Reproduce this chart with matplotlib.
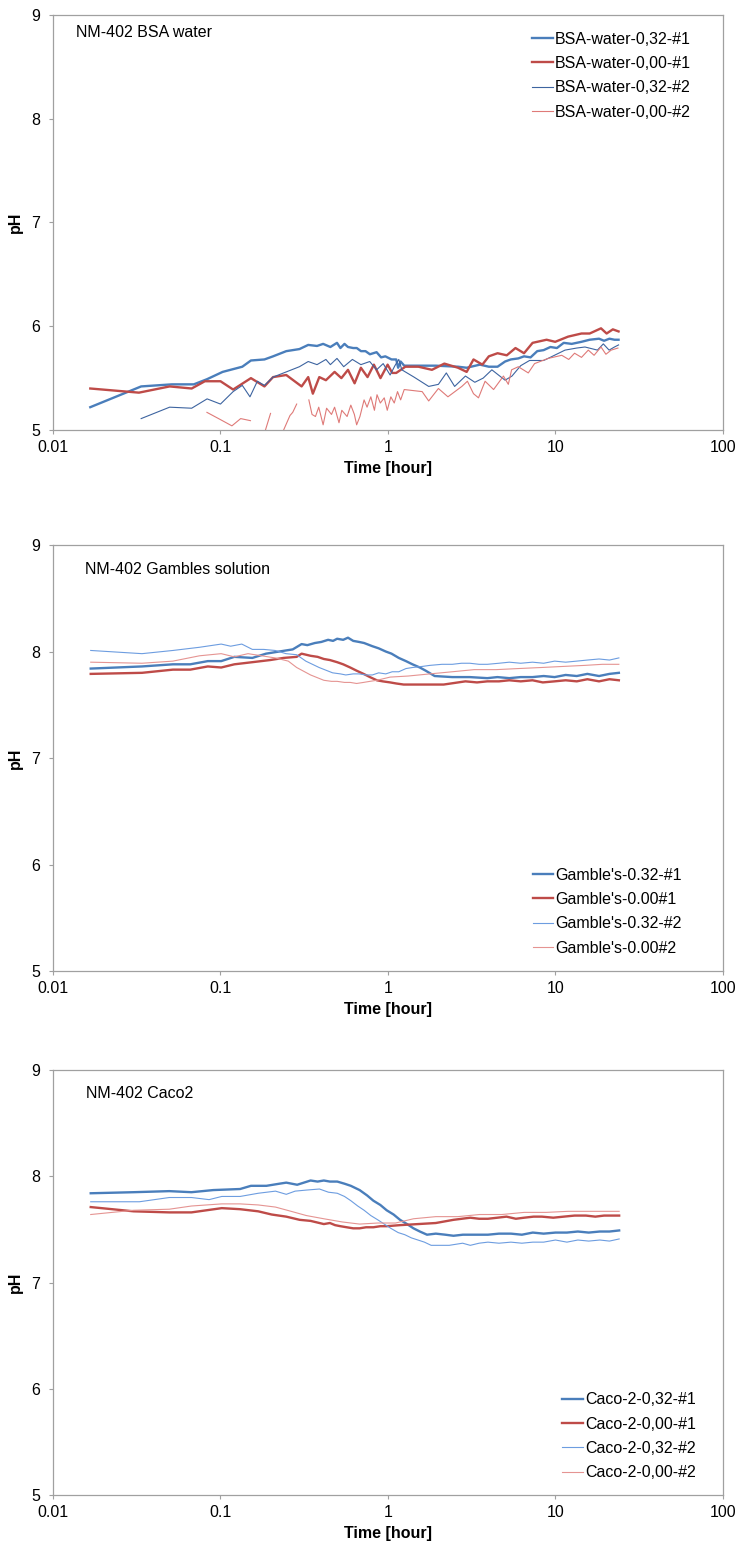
import numpy as np
import matplotlib
matplotlib.use("Agg")
import matplotlib.pyplot as plt

plt.rcParams['font.family'] = ['Liberation Sans', 'DejaVu Sans']

nan = float('nan')

# --- NM-402 in BSA water: (time [h], pH) ---
bsa_032_1 = [(0.0167, 5.22), (0.0336, 5.42), (0.0513, 5.44), (0.0693, 5.44), (0.0832, 5.49),
             (0.103, 5.56), (0.135, 5.61), (0.152, 5.67), (0.183, 5.68), (0.206, 5.71),
             (0.247, 5.76), (0.296, 5.78), (0.334, 5.82), (0.377, 5.81), (0.41, 5.83),
             (0.453, 5.80), (0.496, 5.84), (0.52, 5.79), (0.55, 5.83), (0.577, 5.80),
             (0.62, 5.79), (0.651, 5.79), (0.69, 5.76), (0.734, 5.76), (0.78, 5.73),
             (0.855, 5.75), (0.91, 5.70), (0.964, 5.71), (1.05, 5.68), (1.12, 5.68),
             (1.15, 5.60), (1.19, 5.66), (1.25, 5.62), (1.43, 5.62), (1.93, 5.62),
             (2.62, 5.61), (2.95, 5.60), (3.54, 5.63), (4.0, 5.61), (4.51, 5.61),
             (5.0, 5.66), (5.41, 5.68), (6.0, 5.69), (6.49, 5.71), (7.1, 5.70),
             (7.78, 5.76), (8.5, 5.77), (9.33, 5.80), (10.2, 5.79), (11.2, 5.84),
             (12.5, 5.83), (14.3, 5.85), (16.0, 5.87), (18.2, 5.88), (19.5, 5.86),
             (21.0, 5.88), (22.5, 5.87), (23.8, 5.87)]
bsa_000_1 = [(0.0167, 5.40), (0.0326, 5.36), (0.0497, 5.42), (0.0673, 5.40), (0.0807, 5.47),
             (0.1, 5.47), (0.119, 5.39), (0.152, 5.50), (0.183, 5.42), (0.206, 5.51),
             (0.247, 5.53), (0.305, 5.42), (0.334, 5.51), (0.356, 5.35), (0.389, 5.51),
             (0.426, 5.48), (0.48, 5.56), (0.527, 5.50), (0.577, 5.58), (0.632, 5.45),
             (0.689, 5.60), (0.755, 5.51), (0.824, 5.63), (0.902, 5.50), (0.995, 5.63),
             (1.06, 5.55), (1.12, 5.55), (1.27, 5.61), (1.52, 5.61), (1.83, 5.58),
             (2.17, 5.64), (2.62, 5.60), (2.95, 5.56), (3.24, 5.68), (3.66, 5.63),
             (4.0, 5.71), (4.51, 5.74), (5.12, 5.72), (5.77, 5.79), (6.49, 5.74),
             (7.3, 5.84), (8.85, 5.87), (9.96, 5.85), (11.9, 5.90), (14.3, 5.93),
             (16.0, 5.93), (18.7, 5.98), (20.2, 5.93), (22.0, 5.97), (23.8, 5.95)]
bsa_032_2 = [(0.0336, 5.11), (0.0497, 5.22), (0.0673, 5.21), (0.0832, 5.30), (0.1, 5.25),
             (0.119, 5.37), (0.135, 5.43), (0.150, 5.32), (0.166, 5.47), (0.183, 5.43),
             (0.206, 5.51), (0.247, 5.56), (0.296, 5.61), (0.334, 5.66), (0.377, 5.63),
             (0.426, 5.68), (0.453, 5.63), (0.496, 5.69), (0.544, 5.61), (0.613, 5.68),
             (0.689, 5.63), (0.778, 5.66), (0.855, 5.58), (0.936, 5.64), (1.03, 5.53),
             (1.10, 5.62), (1.16, 5.68), (1.21, 5.58), (1.43, 5.51), (1.75, 5.42),
             (2.0, 5.44), (2.23, 5.55), (2.5, 5.42), (2.9, 5.52), (3.3, 5.46),
             (3.7, 5.50), (4.17, 5.58), (5.0, 5.48), (5.5, 5.52), (6.2, 5.62),
             (7.0, 5.67), (8.5, 5.67), (9.3, 5.70), (11.4, 5.77), (13.4, 5.79),
             (15.0, 5.80), (17.8, 5.77), (19.3, 5.83), (20.9, 5.77), (22.5, 5.80),
             (23.8, 5.82)]
bsa_000_2 = [(0.083, 5.17), (0.10, 5.10), (0.117, 5.04), (0.132, 5.11), (0.151, 5.09),
             (0.16, nan), (0.18, 4.93), (0.199, 5.16), (0.21, nan), (0.228, 4.93),
             (0.26, 5.14), (0.27, 5.17), (0.285, 5.25), (0.31, nan), (0.337, 5.29),
             (0.352, 5.15), (0.369, 5.13), (0.386, 5.22), (0.41, 5.05), (0.43, 5.21),
             (0.46, 5.15), (0.48, 5.22), (0.51, 5.07), (0.53, 5.19), (0.57, 5.13),
             (0.60, 5.24), (0.63, 5.15), (0.65, 5.05), (0.68, 5.13), (0.72, 5.29),
             (0.75, 5.22), (0.79, 5.32), (0.83, 5.19), (0.86, 5.34), (0.90, 5.26),
             (0.95, 5.31), (0.99, 5.19), (1.04, 5.32), (1.09, 5.26), (1.14, 5.37),
             (1.19, 5.29), (1.25, 5.39), (1.6, 5.37), (1.75, 5.28), (2.0, 5.40),
             (2.28, 5.32), (2.76, 5.42), (2.98, 5.47), (3.24, 5.35), (3.47, 5.31),
             (3.8, 5.47), (4.27, 5.39), (4.89, 5.52), (5.23, 5.44), (5.47, 5.58),
             (6.0, 5.61), (6.88, 5.55), (7.5, 5.64), (9.05, 5.69), (10.9, 5.72),
             (12.0, 5.68), (13.0, 5.74), (14.3, 5.70), (15.7, 5.77), (17.0, 5.72),
             (18.7, 5.80), (20.0, 5.73), (21.5, 5.77), (23.6, 5.79)]

# --- NM-402 in Gamble's solution ---
gam_032_1 = [(0.0168, 7.84), (0.034, 7.86), (0.052, 7.88), (0.066, 7.88), (0.084, 7.91),
             (0.101, 7.91), (0.121, 7.95), (0.155, 7.94), (0.187, 7.98), (0.224, 8.00),
             (0.27, 8.02), (0.305, 8.07), (0.33, 8.06), (0.366, 8.08), (0.40, 8.09),
             (0.439, 8.11), (0.47, 8.10), (0.497, 8.12), (0.54, 8.11), (0.577, 8.13),
             (0.62, 8.10), (0.672, 8.09), (0.72, 8.08), (0.807, 8.05), (0.88, 8.03),
             (0.97, 8.00), (1.05, 7.98), (1.16, 7.94), (1.28, 7.91), (1.40, 7.88),
             (1.55, 7.85), (1.68, 7.82), (1.90, 7.77), (2.42, 7.76), (3.08, 7.76),
             (3.92, 7.75), (4.5, 7.76), (5.3, 7.75), (6.2, 7.76), (7.29, 7.76),
             (8.5, 7.77), (9.88, 7.76), (11.5, 7.78), (13.4, 7.77), (15.5, 7.79),
             (18.2, 7.77), (21.0, 7.79), (23.9, 7.80)]
gam_000_1 = [(0.0168, 7.79), (0.034, 7.80), (0.052, 7.83), (0.066, 7.83), (0.084, 7.86),
             (0.101, 7.85), (0.121, 7.88), (0.155, 7.90), (0.198, 7.92), (0.238, 7.94),
             (0.285, 7.95), (0.305, 7.98), (0.345, 7.96), (0.38, 7.95), (0.414, 7.93),
             (0.45, 7.92), (0.497, 7.90), (0.54, 7.88), (0.595, 7.85), (0.65, 7.82),
             (0.715, 7.79), (0.78, 7.76), (0.858, 7.73), (0.93, 7.72), (1.03, 7.71),
             (1.12, 7.70), (1.24, 7.69), (1.68, 7.69), (2.15, 7.69), (2.9, 7.72),
             (3.4, 7.71), (3.92, 7.72), (4.6, 7.72), (5.3, 7.73), (6.2, 7.72),
             (7.29, 7.73), (8.4, 7.71), (9.88, 7.72), (11.5, 7.73), (13.4, 7.72),
             (15.5, 7.74), (18.2, 7.72), (21.0, 7.74), (23.9, 7.73)]
gam_032_2 = [(0.0168, 8.01), (0.034, 7.98), (0.052, 8.01), (0.075, 8.04), (0.101, 8.07),
             (0.115, 8.05), (0.134, 8.07), (0.155, 8.02), (0.181, 8.02), (0.212, 8.01),
             (0.246, 7.98), (0.285, 7.97), (0.323, 7.91), (0.388, 7.85), (0.467, 7.80),
             (0.52, 7.79), (0.56, 7.78), (0.62, 7.79), (0.672, 7.79), (0.74, 7.78),
             (0.807, 7.78), (0.88, 7.80), (0.97, 7.79), (1.06, 7.81), (1.16, 7.81),
             (1.28, 7.84), (1.40, 7.85), (1.6, 7.86), (1.78, 7.87), (2.1, 7.88),
             (2.42, 7.88), (2.75, 7.89), (3.08, 7.89), (3.5, 7.88), (3.92, 7.88),
             (4.6, 7.89), (5.3, 7.90), (6.2, 7.89), (7.29, 7.90), (8.5, 7.89),
             (9.88, 7.91), (11.5, 7.90), (13.4, 7.91), (15.5, 7.92), (18.2, 7.93),
             (21.0, 7.92), (23.9, 7.94)]
gam_000_2 = [(0.0168, 7.90), (0.034, 7.89), (0.052, 7.91), (0.075, 7.96), (0.101, 7.98),
             (0.121, 7.95), (0.146, 7.98), (0.176, 7.96), (0.212, 7.94), (0.254, 7.91),
             (0.285, 7.85), (0.345, 7.78), (0.414, 7.73), (0.46, 7.72), (0.497, 7.72),
             (0.55, 7.71), (0.595, 7.71), (0.65, 7.70), (0.715, 7.71), (0.78, 7.72),
             (0.858, 7.73), (1.03, 7.76), (1.32, 7.77), (1.78, 7.79), (2.42, 7.81),
             (3.27, 7.83), (4.42, 7.83), (5.97, 7.84), (8.23, 7.85), (11.1, 7.86),
             (15.0, 7.87), (19.1, 7.88), (23.9, 7.88)]

# --- NM-402 in Caco-2 medium ---
caco_032_1 = [(0.0168, 7.84), (0.0303, 7.85), (0.0495, 7.86), (0.0671, 7.85), (0.0906, 7.87),
              (0.131, 7.88), (0.152, 7.91), (0.188, 7.91), (0.225, 7.93), (0.247, 7.94),
              (0.287, 7.92), (0.345, 7.96), (0.38, 7.95), (0.414, 7.96), (0.45, 7.95),
              (0.498, 7.95), (0.55, 7.93), (0.6, 7.91), (0.677, 7.87), (0.75, 7.82),
              (0.818, 7.77), (0.9, 7.73), (0.982, 7.68), (1.08, 7.64), (1.18, 7.59),
              (1.3, 7.55), (1.42, 7.51), (1.55, 7.48), (1.71, 7.45), (1.93, 7.46),
              (2.2, 7.45), (2.46, 7.44), (2.8, 7.45), (3.1, 7.45), (3.95, 7.45),
              (4.6, 7.46), (5.42, 7.46), (6.3, 7.45), (7.32, 7.47), (8.5, 7.46),
              (10.0, 7.47), (11.7, 7.47), (13.6, 7.48), (15.8, 7.47), (18.4, 7.48),
              (21.0, 7.48), (24.0, 7.49)]
caco_000_1 = [(0.0168, 7.71), (0.0303, 7.67), (0.0495, 7.66), (0.0671, 7.66), (0.1018, 7.70),
              (0.131, 7.69), (0.168, 7.67), (0.202, 7.64), (0.247, 7.62), (0.297, 7.59),
              (0.345, 7.58), (0.414, 7.55), (0.45, 7.56), (0.483, 7.54), (0.52, 7.53),
              (0.567, 7.52), (0.62, 7.51), (0.677, 7.51), (0.74, 7.52), (0.818, 7.52),
              (0.9, 7.53), (0.982, 7.53), (1.18, 7.54), (1.51, 7.55), (1.93, 7.56),
              (2.46, 7.59), (3.1, 7.61), (3.5, 7.60), (3.95, 7.60), (4.5, 7.61),
              (5.1, 7.62), (5.8, 7.60), (6.5, 7.61), (7.4, 7.62), (8.3, 7.62),
              (9.7, 7.61), (11.2, 7.62), (13.0, 7.63), (15.2, 7.63), (17.3, 7.62),
              (19.5, 7.63), (24.0, 7.63)]
caco_032_2 = [(0.0168, 7.76), (0.0328, 7.76), (0.0495, 7.80), (0.0671, 7.80), (0.0855, 7.78),
              (0.1018, 7.81), (0.131, 7.81), (0.168, 7.84), (0.213, 7.86), (0.247, 7.83),
              (0.279, 7.86), (0.326, 7.87), (0.390, 7.88), (0.441, 7.85), (0.498, 7.84),
              (0.55, 7.81), (0.6, 7.77), (0.66, 7.72), (0.720, 7.68), (0.79, 7.63),
              (0.869, 7.59), (0.95, 7.55), (1.04, 7.51), (1.15, 7.47), (1.26, 7.45),
              (1.38, 7.42), (1.51, 7.40), (1.65, 7.38), (1.81, 7.35), (2.32, 7.35),
              (2.79, 7.37), (3.1, 7.35), (3.5, 7.37), (3.95, 7.38), (4.6, 7.37),
              (5.42, 7.38), (6.3, 7.37), (7.32, 7.38), (8.5, 7.38), (10.0, 7.40),
              (11.7, 7.38), (13.6, 7.40), (15.8, 7.39), (18.4, 7.40), (21.0, 7.39),
              (24.0, 7.41)]
caco_000_2 = [(0.0168, 7.64), (0.0303, 7.68), (0.0495, 7.69), (0.0671, 7.72), (0.1018, 7.74),
              (0.131, 7.74), (0.168, 7.73), (0.213, 7.71), (0.264, 7.67), (0.326, 7.63),
              (0.414, 7.60), (0.533, 7.57), (0.677, 7.55), (0.869, 7.56), (1.11, 7.56),
              (1.42, 7.60), (1.93, 7.62), (2.61, 7.62), (3.52, 7.64), (4.78, 7.64),
              (6.5, 7.66), (8.8, 7.66), (11.9, 7.67), (16.1, 7.67), (24.0, 7.67)]

x_ticks = [0.01, 0.1, 1, 10, 100]
x_tick_labels = ["0.01", "0.1", "1", "10", "100"]
y_ticks = [5, 6, 7, 8, 9]

BLUE = '#4a7ebb'
RED = '#be4b48'
GREY = '#a0a0a0'

panels = [
    dict(title="NM-402 BSA water", title_xy=(0.034, 0.957),
         rect=[0.0716, 0.7215, 0.9054, 0.2688],
         series=[(bsa_032_1, "BSA-water-0,32-#1", BLUE, 1.7),
                 (bsa_000_1, "BSA-water-0,00-#1", RED, 1.7),
                 (bsa_032_2, "BSA-water-0,32-#2", '#3d64a0', 0.8),
                 (bsa_000_2, "BSA-water-0,00-#2", '#df7a78', 0.8)],
         leg_anchor=(0.715, 0.960)),
    dict(title="NM-402 Gambles solution", title_xy=(0.048, 0.943),
         rect=[0.0716, 0.3711, 0.9054, 0.2759],
         series=[(gam_032_1, "Gamble's-0.32-#1", BLUE, 1.7),
                 (gam_000_1, "Gamble's-0.00#1", RED, 1.7),
                 (gam_032_2, "Gamble's-0.32-#2", '#6d9de0', 0.8),
                 (gam_000_2, "Gamble's-0.00#2", '#e59492', 0.8)],
         leg_anchor=(0.716, 0.243)),
    dict(title="NM-402 Caco2", title_xy=(0.049, 0.945),
         rect=[0.0716, 0.0317, 0.9054, 0.2753],
         series=[(caco_032_1, "Caco-2-0,32-#1", BLUE, 1.7),
                 (caco_000_1, "Caco-2-0,00-#1", RED, 1.7),
                 (caco_032_2, "Caco-2-0,32-#2", '#6d9de0', 0.8),
                 (caco_000_2, "Caco-2-0,00-#2", '#e59492', 0.8)],
         leg_anchor=(0.760, 0.242)),
]

fig = plt.figure(figsize=(7.4, 15.44), dpi=100)

for p in panels:
    ax = fig.add_axes(p['rect'])
    for data, label, color, lw in p['series']:
        t, ph = zip(*data)
        ax.plot(t, ph, color=color, lw=lw, label=label)

    ax.set_xscale('log')
    ax.set_xlim(0.01, 100)
    ax.set_ylim(5, 9)
    ax.set_xticks(x_ticks)
    ax.set_xticklabels(x_tick_labels)
    ax.xaxis.set_minor_locator(matplotlib.ticker.NullLocator())
    ax.set_yticks(y_ticks)
    ax.tick_params(direction='out', length=3, width=0.8, color=GREY,
                   labelsize=11.5, labelcolor='black')
    ax.tick_params(axis='x', pad=4.5)
    ax.tick_params(axis='y', pad=6)
    for s in ax.spines.values():
        s.set_color(GREY)
        s.set_linewidth(0.9)

    ax.set_xlabel("Time [hour]", fontsize=11.5, fontweight='bold')
    ax.set_ylabel("pH", fontsize=11.5, fontweight='bold')
    ax.xaxis.label.set_va('center')
    ax.yaxis.label.set_va('center')
    h = p['rect'][3] * 1544
    ax.xaxis.set_label_coords(0.5, -38 / h)
    ax.yaxis.set_label_coords(-38 / 670, 0.5)

    ax.text(p['title_xy'][0], p['title_xy'][1], p['title'], transform=ax.transAxes,
            fontsize=11.5, va='center', ha='left')

    ax.legend(loc='upper left', bbox_to_anchor=p['leg_anchor'], frameon=False,
              fontsize=11.5, borderpad=0, borderaxespad=0, handlelength=1.3,
              handletextpad=0.12, labelspacing=0.59)

fig.savefig("out.png", dpi=100)
